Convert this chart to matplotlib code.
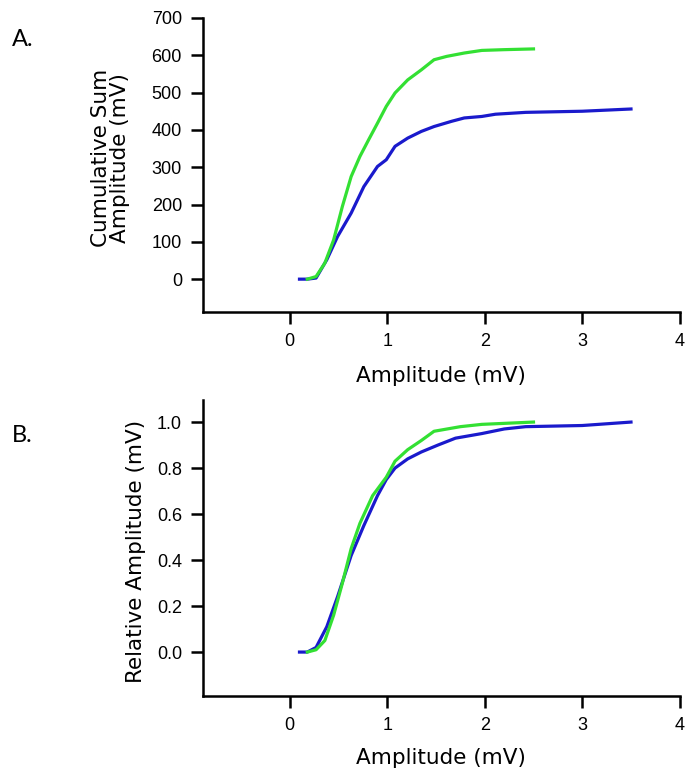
import matplotlib
matplotlib.use("Agg")
import matplotlib.pyplot as plt

# cumulative sum (top panel)
green_x = [0.18, 0.27, 0.36, 0.45, 0.54, 0.63, 0.72, 0.81, 0.90, 0.99, 1.08, 1.21, 1.35, 1.48, 1.61, 1.79, 1.97, 2.2, 2.5]
green_cum = [0, 7, 43, 105, 195, 275, 329, 374, 418, 463, 499, 534, 561, 588, 597, 606, 613, 615, 617]

blue_x = [0.10, 0.18, 0.27, 0.38, 0.49, 0.63, 0.76, 0.90, 0.99, 1.08, 1.21, 1.35, 1.48, 1.66, 1.79, 1.97, 2.11, 2.42, 3.0, 3.5]
blue_cum = [0, 0, 3, 52, 114, 177, 248, 302, 320, 356, 378, 396, 409, 423, 432, 436, 442, 447, 450, 456]

# relative amplitude (bottom panel)
green_rx = [0.18, 0.27, 0.36, 0.45, 0.54, 0.63, 0.72, 0.85, 0.99, 1.08, 1.21, 1.35, 1.48, 1.75, 1.97, 2.5]
green_rel = [0, 0.01, 0.05, 0.16, 0.30, 0.45, 0.56, 0.68, 0.76, 0.83, 0.88, 0.92, 0.96, 0.98, 0.99, 1.0]

blue_rx = [0.10, 0.18, 0.27, 0.38, 0.49, 0.63, 0.76, 0.90, 0.99, 1.08, 1.21, 1.35, 1.52, 1.70, 1.97, 2.2, 2.42, 3.0, 3.5]
blue_rel = [0, 0, 0.02, 0.11, 0.24, 0.42, 0.55, 0.68, 0.75, 0.80, 0.84, 0.87, 0.90, 0.93, 0.95, 0.97, 0.98, 0.985, 1.0]

x_ticks = [0, 1, 2, 3, 4]
top_yticks = [0, 100, 200, 300, 400, 500, 600, 700]
bot_yticks = [0.0, 0.2, 0.4, 0.6, 0.8, 1.0]

GREEN = "#33e033"
BLUE = "#1a1acc"
LABEL_FONT = ['DejaVu Sans']

# tick labels in a narrow Arial-like face
plt.rcParams['font.family'] = ['Liberation Sans Narrow', 'Liberation Sans', 'DejaVu Sans']

fig = plt.figure(figsize=(6.88, 7.8), dpi=100)
ax1 = fig.add_axes([0.295, 0.600, 0.693, 0.377])
ax2 = fig.add_axes([0.295, 0.1077, 0.693, 0.3795])


def style(ax):
    for s in ["top", "right"]:
        ax.spines[s].set_visible(False)
    for s in ["left", "bottom"]:
        ax.spines[s].set_linewidth(1.8)
    ax.tick_params(direction="out", length=8.6, width=1.8, pad=6.5, labelsize=13)
    ax.set_xlim(-0.89, 4)
    ax.set_xlabel("Amplitude (mV)", fontsize=15.5, family=LABEL_FONT, va="top")


ax1.plot(blue_x, blue_cum, color=BLUE, lw=2.3)
ax1.plot(green_x, green_cum, color=GREEN, lw=2.3)
ax1.set_ylim(-88, 700)
ax1.set_xticks(x_ticks)
ax1.set_yticks(top_yticks)
style(ax1)
ax1.xaxis.set_label_coords(0.5, -0.184)
ax1.set_ylabel("Cumulative Sum\nAmplitude (mV)", fontsize=15.5, family=LABEL_FONT, linespacing=0.95)
ax1.yaxis.set_label_coords(-0.153, 0.524)

ax2.plot(blue_rx, blue_rel, color=BLUE, lw=2.3)
ax2.plot(green_rx, green_rel, color=GREEN, lw=2.3)
ax2.set_ylim(-0.191, 1.096)
ax2.set_xticks(x_ticks)
ax2.set_yticks(bot_yticks)
ax2.set_yticklabels([f"{v:.1f}" for v in bot_yticks])
style(ax2)
ax2.xaxis.set_label_coords(0.5, -0.175)
ax2.set_ylabel("Relative Amplitude (mV)", fontsize=15.5, family=LABEL_FONT)
ax2.yaxis.set_label_coords(-0.119, 0.49)

fig.text(12 / 688, 1 - 39 / 780, "A.", fontsize=17, family="Lato", va="center")
fig.text(12 / 688, 1 - 436 / 780, "B.", fontsize=17, family="Lato", va="center")

fig.savefig("out.png", dpi=100)
